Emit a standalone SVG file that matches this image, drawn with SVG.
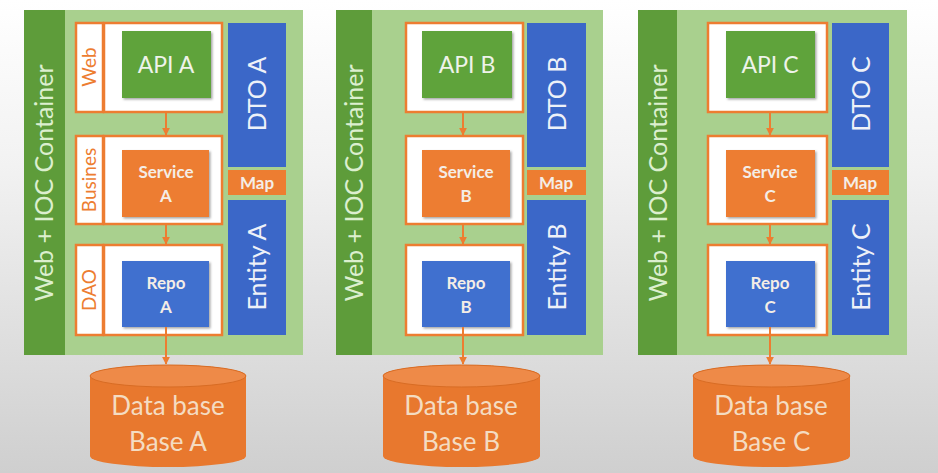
<svg xmlns="http://www.w3.org/2000/svg" width="938" height="473" viewBox="0 0 938 473">
<defs>
<linearGradient id="bg" x1="0" y1="0" x2="0" y2="1">
<stop offset="0" stop-color="#ffffff"/>
<stop offset="0.35" stop-color="#f2f2f2"/>
<stop offset="1" stop-color="#cfcfcf"/>
</linearGradient>
<filter id="sh" x="-10%" y="-10%" width="125%" height="125%">
<feDropShadow dx="1.5" dy="1.5" stdDeviation="1.2" flood-color="#000" flood-opacity="0.35"/>
</filter>
<marker id="ah" viewBox="0 0 10 10" refX="9" refY="5" markerWidth="4" markerHeight="4" orient="auto" markerUnits="strokeWidth">
<path d="M0,0 L10,5 L0,10 z" fill="#ed7d31"/>
</marker>
<style>
.outer{fill:#a9d08e}
.bar{fill:#5e9c3a}
.frame{fill:#ffffff;stroke:#ed7d31;stroke-width:2.5}
.api{fill:#5fa33b;filter:url(#sh)}
.svc{fill:#ed7d31;filter:url(#sh)}
.repo{fill:#3f6fcf;filter:url(#sh)}
.blue{fill:#3b67c8}
.map{fill:#ed7d31}
.db{fill:#e8782e}
.dbtop{fill:#ee8a48;stroke:#d86c24;stroke-width:1}
.t{font-family:Lato,"Noto Sans",sans-serif;text-anchor:middle}
.ctn{font-size:25px;fill:#dcefcf}
.lay{font-size:19px;fill:#ed7d31}
.big{font-size:23px;fill:#eef3ea}
.bold{font-size:17px;font-weight:bold;fill:#f4ede6}
.vert{font-size:25px;fill:#eef1f8}
.dbt{font-size:26px;fill:#f4dcc2}
.conn{stroke:#ed7d31;stroke-width:2;fill:none;marker-end:url(#ah)}
</style>
</defs>
<rect x="0" y="0" width="938" height="473" fill="url(#bg)"/>

<!-- Panel A -->
<g id="containerA">
<rect class="outer" x="24" y="10" width="279" height="345"/>
<rect class="bar" x="24" y="10" width="41" height="345"/>
<text class="t ctn" transform="translate(53,183) rotate(-90)">Web + IOC  Container</text>
</g>
<g id="webA">
<rect class="frame" x="76" y="23" width="27" height="89"/>
<rect class="frame" x="104" y="23" width="118" height="89"/>
<text class="t lay" transform="translate(96,67) rotate(-90)">Web</text>
</g>
<g id="apiA"><rect class="api" x="122" y="31" width="89" height="67"/><text class="t big" x="166" y="73">API A</text></g>
<g id="busA">
<rect class="frame" x="76" y="136" width="27" height="88"/>
<rect class="frame" x="104" y="136" width="118" height="88"/>
<text class="t lay" transform="translate(96,180) rotate(-90)">Busines</text>
</g>
<g id="serviceA"><rect class="svc" x="122" y="150" width="87" height="67"/><text class="t bold" x="166" y="178">Service</text><text class="t bold" x="166" y="202">A</text></g>
<g id="daoA">
<rect class="frame" x="76" y="245" width="27" height="90"/>
<rect class="frame" x="104" y="245" width="118" height="90"/>
<text class="t lay" transform="translate(96,290) rotate(-90)">DAO</text>
</g>
<g id="repoA"><rect class="repo" x="122" y="261" width="87" height="66"/><text class="t bold" x="166" y="289">Repo</text><text class="t bold" x="166" y="313">A</text></g>
<g id="dtoA"><rect class="blue" x="228" y="23" width="58" height="144"/><text class="t vert" transform="translate(266,94) rotate(-90)">DTO A</text></g>
<g id="mapA"><rect class="map" x="228" y="170" width="58" height="25"/><text class="t bold" x="257" y="189">Map</text></g>
<g id="entityA"><rect class="blue" x="228" y="200" width="58" height="135"/><text class="t vert" transform="translate(266,267) rotate(-90)">Entity A</text></g>
<g id="dbA">
<path class="db" d="M90,376 A78,11 0 0 1 246,376 L246,456 A78,11 0 0 1 90,456 Z"/>
<ellipse class="dbtop" cx="168" cy="376" rx="78" ry="11"/>
<text class="t dbt" x="168" y="415">Data base</text>
<text class="t dbt" x="168" y="451">Base A</text>
</g>

<!-- Panel B -->
<g id="containerB">
<rect class="outer" x="336" y="10" width="267" height="345"/>
<rect class="bar" x="336" y="10" width="36" height="345"/>
<text class="t ctn" transform="translate(363,183) rotate(-90)">Web + IOC  Container</text>
</g>
<g id="webB"><rect class="frame" x="406" y="23" width="117" height="89"/></g>
<g id="apiB"><rect class="api" x="422" y="31" width="90" height="67"/><text class="t big" x="467" y="73">API B</text></g>
<g id="busB"><rect class="frame" x="406" y="136" width="117" height="88"/></g>
<g id="serviceB"><rect class="svc" x="422" y="150" width="88" height="67"/><text class="t bold" x="466" y="178">Service</text><text class="t bold" x="466" y="202">B</text></g>
<g id="daoB"><rect class="frame" x="406" y="245" width="117" height="90"/></g>
<g id="repoB"><rect class="repo" x="422" y="261" width="88" height="66"/><text class="t bold" x="466" y="289">Repo</text><text class="t bold" x="466" y="313">B</text></g>
<g id="dtoB"><rect class="blue" x="527" y="23" width="59" height="144"/><text class="t vert" transform="translate(566,94) rotate(-90)">DTO B</text></g>
<g id="mapB"><rect class="map" x="527" y="170" width="59" height="25"/><text class="t bold" x="556" y="189">Map</text></g>
<g id="entityB"><rect class="blue" x="527" y="200" width="59" height="135"/><text class="t vert" transform="translate(566,267) rotate(-90)">Entity B</text></g>
<g id="dbB">
<path class="db" d="M383,376 A78.5,11 0 0 1 540,376 L540,456 A78.5,11 0 0 1 383,456 Z"/>
<ellipse class="dbtop" cx="461.5" cy="376" rx="78.5" ry="11"/>
<text class="t dbt" x="461" y="415">Data base</text>
<text class="t dbt" x="461" y="451">Base B</text>
</g>

<!-- Panel C -->
<g id="containerC">
<rect class="outer" x="638" y="10" width="269" height="345"/>
<rect class="bar" x="638" y="10" width="39" height="345"/>
<text class="t ctn" transform="translate(667,183) rotate(-90)">Web + IOC  Container</text>
</g>
<g id="webC"><rect class="frame" x="708" y="23" width="119" height="89"/></g>
<g id="apiC"><rect class="api" x="726" y="31" width="89" height="67"/><text class="t big" x="770" y="73">API C</text></g>
<g id="busC"><rect class="frame" x="708" y="136" width="119" height="88"/></g>
<g id="serviceC"><rect class="svc" x="726" y="150" width="89" height="67"/><text class="t bold" x="770" y="178">Service</text><text class="t bold" x="770" y="202">C</text></g>
<g id="daoC"><rect class="frame" x="708" y="245" width="119" height="90"/></g>
<g id="repoC"><rect class="repo" x="726" y="261" width="89" height="66"/><text class="t bold" x="770" y="289">Repo</text><text class="t bold" x="770" y="313">C</text></g>
<g id="dtoC"><rect class="blue" x="832" y="23" width="57" height="144"/><text class="t vert" transform="translate(870,94) rotate(-90)">DTO C</text></g>
<g id="mapC"><rect class="map" x="832" y="170" width="57" height="25"/><text class="t bold" x="860" y="189">Map</text></g>
<g id="entityC"><rect class="blue" x="832" y="200" width="57" height="135"/><text class="t vert" transform="translate(870,267) rotate(-90)">Entity C</text></g>
<g id="dbC">
<path class="db" d="M693,376 A78.5,11 0 0 1 850,376 L850,456 A78.5,11 0 0 1 693,456 Z"/>
<ellipse class="dbtop" cx="771.5" cy="376" rx="78.5" ry="11"/>
<text class="t dbt" x="771" y="415">Data base</text>
<text class="t dbt" x="771" y="451">Base C</text>
</g>

<g id="connectors">
<line class="conn" x1="166" y1="112" x2="166" y2="135"/>
<line class="conn" x1="166" y1="224" x2="166" y2="244"/>
<line class="conn" x1="166" y1="327" x2="166" y2="364"/>
<line class="conn" x1="463" y1="112" x2="463" y2="135"/>
<line class="conn" x1="463" y1="224" x2="463" y2="244"/>
<line class="conn" x1="463" y1="327" x2="463" y2="364"/>
<line class="conn" x1="770" y1="112" x2="770" y2="135"/>
<line class="conn" x1="770" y1="224" x2="770" y2="244"/>
<line class="conn" x1="770" y1="327" x2="770" y2="364"/>
</g>
</svg>
